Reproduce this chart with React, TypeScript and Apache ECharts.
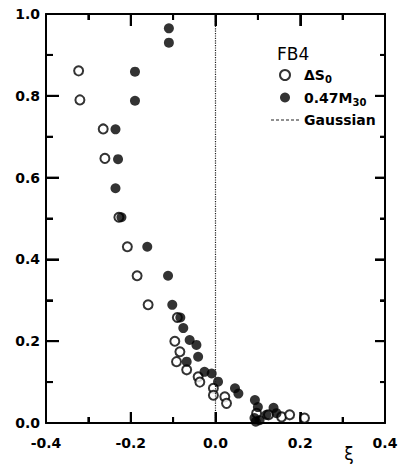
import React, { useEffect, useRef } from "react";
import * as echarts from "echarts";

const xTicks = [-0.4, -0.2, 0.0, 0.2, 0.4];
const xMinorTicks = [-0.3, -0.1, 0.1, 0.3];
const yTicks = [0.0, 0.2, 0.4, 0.6, 0.8, 1.0];
const yMinorTicks = [0.1, 0.3, 0.5, 0.7, 0.9];

const deltaS0: [number, number][] = [
  [-0.323, 0.861], [-0.320, 0.790], [-0.265, 0.719], [-0.261, 0.647],
  [-0.228, 0.503], [-0.208, 0.431], [-0.185, 0.360], [-0.159, 0.289],
  [-0.090, 0.258], [-0.096, 0.200], [-0.084, 0.174], [-0.092, 0.150],
  [-0.068, 0.130], [-0.041, 0.113], [-0.037, 0.100], [-0.005, 0.085],
  [-0.005, 0.068], [0.022, 0.064], [0.026, 0.048], [0.097, 0.024],
  [0.156, 0.015], [0.175, 0.020], [0.210, 0.012], [0.125, 0.020],
];

const m30: [number, number][] = [
  [-0.110, 0.965], [-0.110, 0.930], [-0.190, 0.859], [-0.190, 0.788],
  [-0.236, 0.718], [-0.230, 0.645], [-0.236, 0.574], [-0.222, 0.503],
  [-0.161, 0.431], [-0.112, 0.360], [-0.102, 0.289], [-0.083, 0.258],
  [-0.076, 0.232], [-0.061, 0.203], [-0.045, 0.191], [-0.041, 0.162],
  [-0.068, 0.150], [-0.026, 0.125], [-0.009, 0.121], [0.006, 0.101],
  [0.046, 0.085], [0.054, 0.072], [0.093, 0.056], [0.100, 0.039],
  [0.092, 0.012], [0.104, 0.007], [0.137, 0.037], [0.144, 0.024],
  [0.120, 0.020], [0.095, 0.003],
];

const gaussian: [number, number][] = [[0, 0], [0, 1]];

const FONT = "DejaVu Sans";
const X_MIN = -0.4, X_MAX = 0.4, Y_MIN = 0, Y_MAX = 1;

const axisLine = () => ({ show: true, onZero: false, lineStyle: { color: "#000", width: 2 } });
const tick = (len: number) => ({ show: true, inside: true, length: len, lineStyle: { color: "#000", width: 2 } });
const minor = (len: number) => ({ show: true, splitNumber: 2, length: len, lineStyle: { color: "#000", width: 2 } });

// frame tick marks: [value, kind (0 = x, 1 = y), length on bottom/left, length on top/right]
const frameTicks: number[][] = [
  ...xTicks.map((v) => [v, 0, 11, 12]),
  ...xMinorTicks.map((v) => [v, 0, 6, 6]),
  ...yTicks.map((v) => [v, 1, 13, 10]),
  ...yMinorTicks.map((v) => [v, 1, 7, 5]),
];

export default function App() {
  const ref = useRef<HTMLDivElement>(null);
  useEffect(() => {
    if (!ref.current) return;
    const chart = echarts.init(ref.current, null, { renderer: "svg" });
    const lineStyle = { stroke: "#000", lineWidth: 2 };
    chart.setOption({
      animation: false,
      title: {
        text: "FB4",
        left: 272,
        top: 40,
        textStyle: { fontFamily: FONT, fontSize: 17, fontWeight: "normal", color: "#000" },
      },
      legend: {
        orient: "vertical",
        left: 266,
        top: 63,
        itemWidth: 28,
        itemHeight: 10,
        itemGap: 6,
        data: [
          { name: "ΔS0" },
          { name: "0.47M30" },
          {
            name: "Gaussian",
            icon: "path://M0 0H3V1H0Z M5 0H8V1H5Z M10 0H13V1H10Z M15 0H18V1H15Z M20 0H23V1H20Z M25 0H28V1H25Z",
            itemStyle: { color: "#222" },
          },
        ],
        formatter: (name: string) => {
          if (name === "ΔS0") return "{b|ΔS}{s|0}";
          if (name === "0.47M30") return "{b|0.47M}{s|30}";
          return "{b|Gaussian}";
        },
        textStyle: {
          color: "#000",
          fontFamily: FONT,
          fontWeight: "bold",
          fontSize: 14,
          rich: {
            b: { fontFamily: FONT, fontWeight: "bold", fontSize: 14, color: "#000" },
            s: { fontFamily: FONT, fontWeight: "bold", fontSize: 10, color: "#000", padding: [9, 0, 0, 0] },
          },
        },
      },
      grid: { left: 46, right: 18, top: 14, bottom: 47 },
      xAxis: [
        {
          type: "value",
          position: "bottom",
          min: X_MIN,
          max: X_MAX,
          interval: 0.2,
          axisLine: axisLine(),
          axisTick: tick(11),
          minorTick: minor(6),
          splitLine: { show: false },
          name: "ξ",
          nameLocation: "end",
          nameGap: -36,
          nameTextStyle: {
            fontFamily: FONT, fontSize: 17, color: "#000", align: "center",
            verticalAlign: "top", padding: [22, 0, 0, 0],
          },
          axisLabel: {
            show: true, margin: 13, color: "#000", fontFamily: FONT, fontWeight: "bold", fontSize: 14,
            formatter: (v: number) => v.toFixed(1),
          },
        },
        {
          type: "value",
          position: "top",
          min: X_MIN,
          max: X_MAX,
          interval: 0.2,
          axisLine: axisLine(),
          axisTick: tick(12),
          minorTick: minor(6),
          splitLine: { show: false },
          axisLabel: { show: false },
        },
      ],
      yAxis: [
        {
          type: "value",
          position: "left",
          min: Y_MIN,
          max: Y_MAX,
          interval: 0.2,
          axisLine: axisLine(),
          axisTick: tick(13),
          minorTick: minor(7),
          splitLine: { show: false },
          axisLabel: {
            show: true, margin: 6, color: "#000", fontFamily: FONT, fontWeight: "bold", fontSize: 14,
            formatter: (v: number) => v.toFixed(1),
          },
        },
        {
          type: "value",
          position: "right",
          min: Y_MIN,
          max: Y_MAX,
          interval: 0.2,
          axisLine: axisLine(),
          axisTick: tick(10),
          minorTick: minor(5),
          splitLine: { show: false },
          axisLabel: { show: false },
        },
      ],
      series: [
        {
          name: "frameTicks",
          type: "custom",
          xAxisIndex: 0,
          yAxisIndex: 0,
          data: frameTicks,
          silent: true,
          clip: false,
          z: 5,
          renderItem: (_params: any, api: any) => {
            const v = api.value(0);
            const kind = api.value(1);
            const a = api.value(2);
            const b = api.value(3);
            if (kind === 0) {
              const p0 = api.coord([v, Y_MIN]);
              const p1 = api.coord([v, Y_MAX]);
              return {
                type: "group",
                children: [
                  { type: "line", shape: { x1: p0[0], y1: p0[1], x2: p0[0], y2: p0[1] - a }, style: lineStyle },
                  { type: "line", shape: { x1: p1[0], y1: p1[1], x2: p1[0], y2: p1[1] + b }, style: lineStyle },
                ],
              };
            }
            const q0 = api.coord([X_MIN, v]);
            const q1 = api.coord([X_MAX, v]);
            return {
              type: "group",
              children: [
                { type: "line", shape: { x1: q0[0], y1: q0[1], x2: q0[0] + a, y2: q0[1] }, style: lineStyle },
                { type: "line", shape: { x1: q1[0], y1: q1[1], x2: q1[0] - b, y2: q1[1] }, style: lineStyle },
              ],
            };
          },
        },
        {
          name: "Gaussian",
          type: "line",
          data: gaussian,
          symbol: "none",
          showSymbol: false,
          lineStyle: { color: "#222", width: 1.2, type: "dotted" },
          itemStyle: { color: "#222" },
        },
        {
          name: "ΔS0",
          type: "scatter",
          data: deltaS0,
          symbol: "emptyCircle",
          symbolSize: 9,
          itemStyle: { color: "#000", borderColor: "#000", borderWidth: 2 },
        },
        {
          name: "0.47M30",
          type: "scatter",
          data: m30,
          symbol: "circle",
          symbolSize: 10,
          itemStyle: { color: "#000" },
        },
      ],
    });
    return () => chart.dispose();
  }, []);
  return (
    <div
      ref={ref}
      style={{ position: "fixed", left: 0, top: 0, width: 403, height: 470, background: "#fff" }}
    />
  );
}
